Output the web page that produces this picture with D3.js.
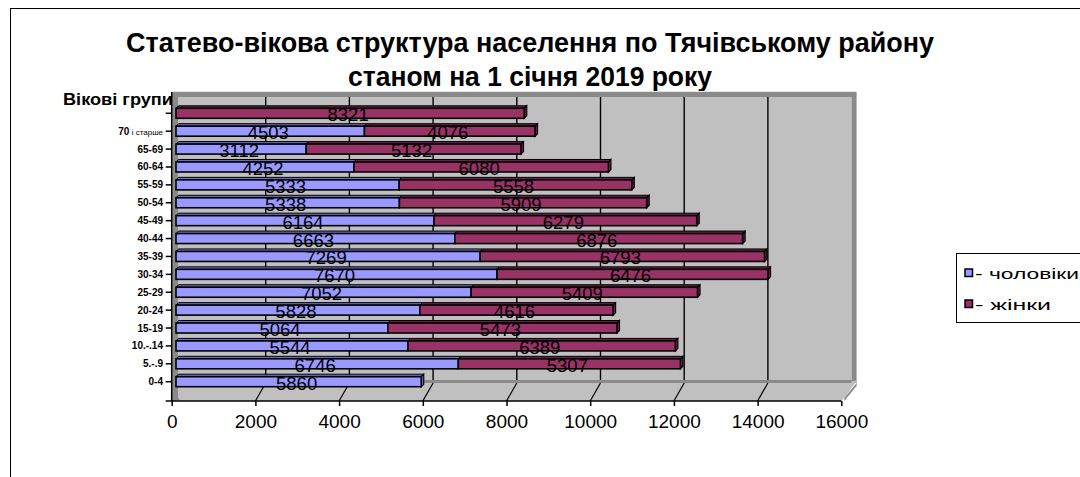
<!DOCTYPE html>
<html>
<head>
<meta charset="utf-8">
<script src="https://cdn.jsdelivr.net/npm/d3@7"></script>
<style>
  body { margin: 0; background: #fff; }
  svg { display: block; font-family: Arial, "Liberation Sans", sans-serif; }
</style>
</head>
<body>
<svg id="chart" width="1080" height="477"></svg>
<script>
// Age groups, bottom to top (the top row has no label)
const ageGroups = ["0-4", "5.-.9", "10.-.14", "15-19", "20-24", "25-29", "30-34", "35-39",
                   "40-44", "45-49", "50-54", "55-59", "60-64", "65-69", "70 і старше", ""];
// Men and women per group (null = no segment)
const men   = [5860, 6746, 5544, 5064, 5828, 7052, 7670, 7269, 6663, 6164, 5338, 5333, 4252, 3112, 4503, null];
const women = [null, 5307, 6389, 5473, 4616, 5409, 6476, 6793, 6876, 6279, 5909, 5558, 6080, 5132, 4076, 8321];
const xTicks = [0, 2000, 4000, 6000, 8000, 10000, 12000, 14000, 16000];
const seriesNames = ["- чоловіки", "- жінки"];
const seriesColors = ["#9999ff", "#993366"];
const seriesDark = ["#6b6bc4", "#6a2146"];

const svg = d3.select("#chart");
const narrow = "'Liberation Sans Narrow', 'Arial Narrow', Arial, 'Liberation Sans', sans-serif";

// outer chart frame
svg.append("rect").attr("x", 10.5).attr("y", 8.5).attr("width", 1100).attr("height", 500)
  .attr("fill", "none").attr("stroke", "#000").attr("stroke-width", 1);

// title
svg.append("text").attr("x", 530).attr("y", 52).attr("text-anchor", "middle")
  .attr("font-family", narrow).attr("font-size", 27).attr("font-weight", "bold")
  .attr("textLength", 808).attr("lengthAdjust", "spacingAndGlyphs")
  .text("Статево-вікова структура населення по Тячівському району");
svg.append("text").attr("x", 530).attr("y", 86).attr("text-anchor", "middle")
  .attr("font-family", narrow).attr("font-size", 27).attr("font-weight", "bold")
  .attr("textLength", 364).attr("lengthAdjust", "spacingAndGlyphs")
  .text("станом на 1 січня 2019 року");
svg.append("text").attr("x", 63).attr("y", 105)
  .attr("font-size", 16).attr("font-weight", "bold")
  .attr("textLength", 110).attr("lengthAdjust", "spacingAndGlyphs")
  .text("Вікові групи");

// scales: front axis plane, bar plane (mid depth), back wall plane
const xFront = d3.scaleLinear().domain([0, 16000]).range([171.7, 841.3]);
const xBar = v => xFront(v) + 4.3;
const xBack = v => xFront(v) + 10.3;
const y = d3.scalePoint().domain(ageGroups.slice().reverse()).range([113.3, 381.7]);
const barH = 10;
const depth = [2.5, -2.5];

const wallTop = 97, wallBottom = 381, floorFront = 401;

// back wall
svg.append("rect").attr("x", xBack(0) - 4).attr("y", wallTop)
  .attr("width", xBack(16000) - xBack(0) + 4).attr("height", wallBottom - wallTop)
  .attr("fill", "#c0c0c0");
// wall thickness (top and right edges)
svg.append("path")
  .attr("d", `M${xFront(0)},${wallTop - 5} L${xBack(16000) + 5},${wallTop - 5} L${xBack(16000) + 5},${wallBottom + 2}
              L${xBack(16000)},${wallBottom + 2} L${xBack(16000)},${wallTop} L${xFront(0)},${wallTop} Z`)
  .attr("fill", "#8a8a8a");
svg.append("line").attr("x1", xFront(0)).attr("x2", xBack(16000) + 5)
  .attr("y1", wallTop - 5.5).attr("y2", wallTop - 5.5).attr("stroke", "#e6e6e6").attr("stroke-width", 1);

// floor
svg.append("path")
  .attr("d", `M${xBack(0) - 4},${wallBottom} L${xBack(16000) + 5},${wallBottom} L${xFront(16000) + 3},${floorFront - 3}
              L${xFront(16000)},${floorFront} L${xFront(0)},${floorFront} Z`)
  .attr("fill", "#c0c0c0");
svg.append("path")
  .attr("d", `M${xFront(16000) + 3},${floorFront - 3} L${xBack(16000) + 5},${wallBottom + 2} L${xBack(16000) + 5},${wallBottom + 5} L${xFront(16000) + 3},${floorFront} Z`)
  .attr("fill", "#8a8a8a");
svg.append("rect").attr("x", xBack(0) - 4).attr("y", wallBottom - 1)
  .attr("width", xBack(16000) - xBack(0) + 4).attr("height", 3).attr("fill", "#8a8a8a");

// left wall
svg.append("path")
  .attr("d", `M${xFront(0)},${wallTop - 5} L${xBack(0) - 4},${wallTop - 5} L${xBack(0) - 4},${floorFront - 4}
              L${xFront(0) + 8},${floorFront - 1} L${xFront(0)},${floorFront} Z`)
  .attr("fill", "#8a8a8a");

// gridlines on back wall and floor
xTicks.slice(1, -1).forEach(v => {
  svg.append("line").attr("x1", xBack(v)).attr("x2", xBack(v))
    .attr("y1", wallTop).attr("y2", wallBottom - 1)
    .attr("stroke", "#000").attr("stroke-width", 1.4);
  svg.append("line").attr("x1", xBack(v)).attr("x2", xFront(v))
    .attr("y1", wallBottom + 2).attr("y2", floorFront)
    .attr("stroke", "#000").attr("stroke-width", 1.2);
});

// stacked 3D bars
const stacked = ageGroups.map((g, i) => {
  const m = men[i] || 0, w = women[i] || 0;
  return { group: g, segs: [
    { s: 0, v0: 0, v1: m, val: men[i] },
    { s: 1, v0: m, v1: m + w, val: women[i] }
  ].filter(d => d.val != null) };
});

const barsG = svg.append("g");
stacked.forEach(row => {
  const yc = y(row.group);
  const y0 = yc - barH / 2, y1 = yc + barH / 2;
  row.segs.forEach((d, k) => {
    const xa = xBar(d.v0), xb = xBar(d.v1);
    const [dx, dy] = depth;
    // top face
    barsG.append("path")
      .attr("d", `M${xa},${y0} L${xa + dx},${y0 + dy} L${xb + dx},${y0 + dy} L${xb},${y0} Z`)
      .attr("fill", seriesDark[d.s]).attr("stroke", "#000").attr("stroke-width", 1);
    // right face (only at the end of the stack)
    if (k === row.segs.length - 1) {
      barsG.append("path")
        .attr("d", `M${xb},${y0} L${xb + dx},${y0 + dy} L${xb + dx},${y1 + dy} L${xb},${y1} Z`)
        .attr("fill", seriesDark[d.s]).attr("stroke", "#000").attr("stroke-width", 1.2);
    }
    // front face
    barsG.append("rect").attr("x", xa).attr("y", y0)
      .attr("width", xb - xa).attr("height", barH)
      .attr("fill", seriesColors[d.s]).attr("stroke", "#000").attr("stroke-width", 1.6);
  });
});

// value labels centred on each segment
stacked.forEach(row => {
  const yc = y(row.group);
  row.segs.forEach(d => {
    svg.append("text")
      .attr("x", (xBar(d.v0) + xBar(d.v1)) / 2 - 2)
      .attr("y", yc + 1.5)
      .attr("dominant-baseline", "central")
      .attr("text-anchor", "middle")
      .attr("font-size", 18.5)
      .attr("fill", "#000")
      .text(d.val);
  });
});

// category axis
svg.append("line").attr("x1", xFront(0)).attr("x2", xFront(0))
  .attr("y1", wallTop - 5).attr("y2", floorFront).attr("stroke", "#000").attr("stroke-width", 1.5);
ageGroups.forEach(g => {
  const yc = y(g);
  svg.append("line").attr("x1", xFront(0) - 6).attr("x2", xFront(0))
    .attr("y1", yc).attr("y2", yc).attr("stroke", "#000").attr("stroke-width", 1.5);
  if (!g) return;
  const t = svg.append("text").attr("x", 163).attr("y", yc + 3.5)
    .attr("text-anchor", "end").attr("font-size", 10).attr("font-weight", "bold");
  const parts = g.split(" ");
  t.append("tspan").text(parts[0]);
  if (parts.length > 1) {
    t.append("tspan").attr("font-weight", "normal").attr("font-size", 8)
      .text(" " + parts.slice(1).join(" "));
  }
});

// value axis
const xAxis = d3.axisBottom(xFront).tickValues(xTicks).tickSize(5).tickFormat(d3.format("d"));
const ax = svg.append("g").attr("transform", `translate(0,${floorFront})`).call(xAxis);
ax.select(".domain").attr("stroke", "#000").attr("stroke-width", 1.5)
  .attr("d", `M${xFront(0) - 6},0H${xFront(16000)}`);
ax.selectAll(".tick line").attr("stroke", "#000").attr("stroke-width", 1.5);
ax.selectAll(".tick text").attr("font-size", 19).attr("dy", 0).attr("y", 27)
  .attr("fill", "#000").attr("font-family", "Arial, 'Liberation Sans', sans-serif");

// legend
const lg = svg.append("g");
lg.append("rect").attr("x", 956.5).attr("y", 253.5).attr("width", 200).attr("height", 69)
  .attr("fill", "#fff").attr("stroke", "#000").attr("stroke-width", 1);
const legendWidths = [104, 76];
seriesNames.forEach((name, i) => {
  const ly = 273 + i * 31;
  lg.append("rect").attr("x", 965).attr("y", ly - 4).attr("width", 7.5).attr("height", 7.5)
    .attr("fill", seriesColors[i]).attr("stroke", "#000").attr("stroke-width", 1.5);
  lg.append("text").attr("x", 975).attr("y", ly + 5.5).attr("font-size", 15)
    .attr("textLength", legendWidths[i]).attr("lengthAdjust", "spacingAndGlyphs")
    .text(name);
});
</script>
</body>
</html>
